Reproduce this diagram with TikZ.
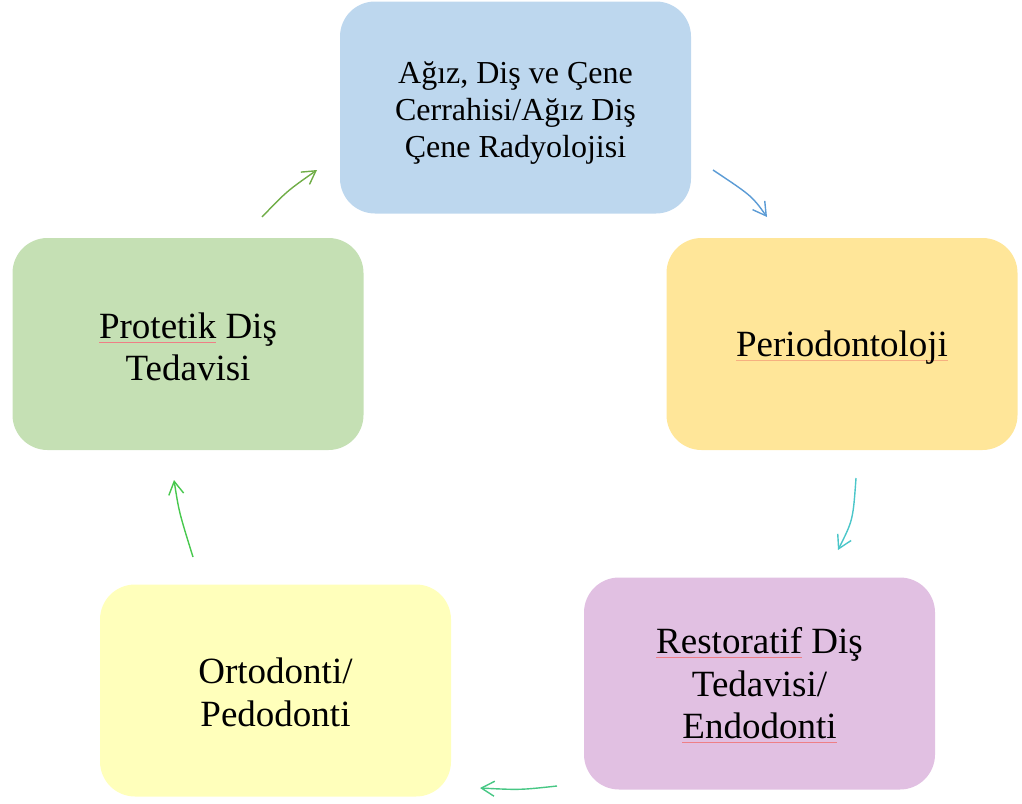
\documentclass[tikz,border=0pt]{standalone}
\usepackage{fontspec}
\setmainfont{Liberation Serif}
\usetikzlibrary{arrows.meta}
\definecolor{cTop}{HTML}{BDD7EE}
\definecolor{cRight}{HTML}{FFE699}
\definecolor{cBR}{HTML}{E1C0E2}
\definecolor{cBL}{HTML}{FFFFBB}
\definecolor{cLeft}{HTML}{C5E0B4}
\definecolor{aGreen}{HTML}{70AD47}
\definecolor{aBlue}{HTML}{5B9BD5}
\definecolor{aTeal}{HTML}{4BC6C9}
\definecolor{aSea}{HTML}{47C784}
\definecolor{aLime}{HTML}{48C84E}
\definecolor{spellred}{HTML}{EE7F86}
\definecolor{spellor}{HTML}{F6B080}
\newlength\spllen
\newcommand\spl[2][spellred]{\settowidth\spllen{#2}\rlap{\color{#1}\raisebox{-4.5pt}{\rule{\spllen}{1.1pt}}}#2}
\tikzset{
  box/.style={rectangle, rounded corners=35pt, minimum width=351pt, minimum height=212pt, inner sep=0pt},
  txt/.style={align=center, inner sep=0pt, font=\fontsize{37}{42.5}\selectfont},
  conn/.style={line width=1.4pt, -{Straight Barb[angle=60:15pt]}},
}
\begin{document}
\begin{tikzpicture}[x=1pt,y=-1pt]
\useasboundingbox (0,0) rectangle (1022,803);
\node[box, fill=cTop] (top) at (515.5,107.5) {};
\node[box, fill=cRight] (right) at (842,344) {};
\node[box, fill=cBR] (br) at (759.5,683.5) {};
\node[box, fill=cBL] (bl) at (275.5,690.5) {};
\node[box, fill=cLeft] (left) at (188,344) {};

\node[txt, font=\fontsize{32}{37}\selectfont] (topT) at ([yshift=-6pt]top.center)
  {Ağız, Diş ve Çene\\Cerrahisi/Ağız Diş\\Çene Radyolojisi};
\node[txt] (rightT) at ([yshift=-4pt]right.center) {\spl[spellor]{Periodontoloji}};
\node[txt] (brT) at ([yshift=-2pt]br.center) {\spl{Restoratif}~Diş\\Tedavisi/\\\spl{Endodonti}};
\node[txt] (blT) at ([yshift=-2pt]bl.center) {Ortodonti/\\Pedodonti};
\node[txt] (leftT) at ([yshift=-3pt]left.center) {\spl{Protetik}~Diş\\Tedavisi};

\coordinate (a1s) at (262,217); \coordinate (a1e) at (317,170);
\coordinate (a2s) at (713,170); \coordinate (a2e) at (767,217);
\coordinate (a3s) at (856,478); \coordinate (a3e) at (838,550);
\coordinate (a4s) at (557,786); \coordinate (a4e) at (480,788);
\coordinate (a5s) at (193,557); \coordinate (a5e) at (174,480);

\draw[conn, aGreen] (a1s) .. controls (287,191) .. (a1e);
\draw[conn, aBlue] (a2s) .. controls (752,196) .. (a2e);
\draw[conn, aTeal] (a3s) .. controls (853,520) .. (a3e);
\draw[conn, aSea] (a4s) .. controls (520,790) .. (a4e);
\draw[conn, aLime] (a5s) .. controls (179,512) .. (a5e);
\end{tikzpicture}
\end{document}
